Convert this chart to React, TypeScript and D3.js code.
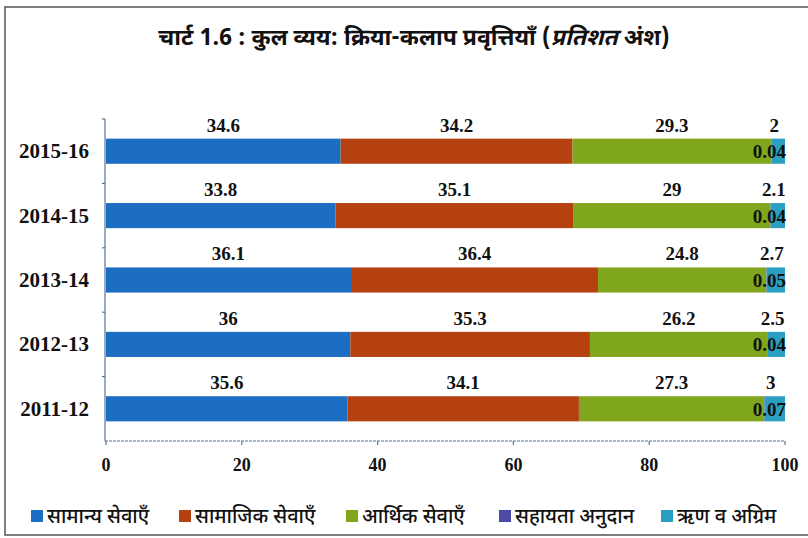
import * as d3 from 'd3'

const years = ['2015-16', '2014-15', '2013-14', '2012-13', '2011-12']
const generalServices = [34.6, 33.8, 36.1, 36, 35.6]
const socialServices = [34.2, 35.1, 36.4, 35.3, 34.1]
const economicServices = [29.3, 29, 24.8, 26.2, 27.3]
const grantsInAid = [0.04, 0.04, 0.05, 0.04, 0.07]
const loansAdvances = [2, 2.1, 2.7, 2.5, 3]
const xTicks = [0, 20, 40, 60, 80, 100]

const seriesNames = ['सामान्य सेवाएँ', 'सामाजिक सेवाएँ', 'आर्थिक सेवाएँ', 'सहायता अनुदान', 'ऋण व अग्रिम']
const seriesKeys = ['general', 'social', 'economic', 'grants', 'loans']
const seriesColors = ['#1b6ec2', '#b4410f', '#80a61d', '#4d4ba6', '#2a9fc2']

const W = 808
const H = 538
const margin = { top: 119, right: 23, bottom: 97, left: 106 }

const serif = '"Liberation Serif", "Times New Roman", serif'
const deva = '"Noto Sans Devanagari", "Noto Sans", sans-serif'

export default function App() {
  const rows = years.map((y, i) => ({
    year: y,
    general: generalServices[i],
    social: socialServices[i],
    economic: economicServices[i],
    grants: grantsInAid[i],
    loans: loansAdvances[i],
  }))

  // Excel-style 100% stacked bars
  const stacked = d3.stack<any>().keys(seriesKeys).offset(d3.stackOffsetExpand)(rows)

  const x = d3.scaleLinear().domain([0, 1]).range([margin.left, W - margin.right])
  const xAxis = d3.scaleLinear().domain([0, 100]).range([margin.left, W - margin.right])
  const y = d3.scaleBand().domain(years).range([margin.top, H - margin.bottom]).paddingInner(0.61).paddingOuter(0.305)
  const yEdges = d3.scaleBand().domain(years).range([margin.top, H - margin.bottom])

  const axisY = H - margin.bottom
  const labelSize = 19

  const legendX = [31, 179, 346, 499, 661]

  return (
    <svg width={W} height={H} style={{ position: 'absolute', left: 0, top: 0, background: '#fff' }}>
      {/* frame */}
      <rect x={5} y={7} width={W + 10} height={H - 10} fill="#fff" stroke="#555" strokeWidth={1.5} />

      {/* title */}
      <text x={414} y={45} textAnchor="middle" fontFamily={deva} fontSize={23} fontWeight="bold" fill="#111">
        चार्ट 1.6 : कुल व्यय: क्रिया-कलाप प्रवृत्तियाँ (<tspan fontStyle="italic">प्रतिशत</tspan> अंश)
      </text>

      {/* bars */}
      {stacked.map((s, si) => (
        <g key={s.key} fill={seriesColors[si]}>
          {s.map((d, i) => (
            <rect
              key={i}
              x={x(d[0])}
              y={y(years[i])!}
              width={Math.max(0, x(d[1]) - x(d[0]))}
              height={y.bandwidth()}
            />
          ))}
        </g>
      ))}

      {/* value labels */}
      {stacked.map((s, si) =>
        s.map((d, i) => {
          const v = (rows[i] as any)[s.key] as number
          const top = y(years[i])!
          if (s.key === 'grants') {
            return (
              <text key={`${si}-${i}`} x={x(1) + 1} y={top + y.bandwidth() / 2 + 7} textAnchor="end"
                fontFamily={serif} fontSize={labelSize} fontWeight="bold" fill="#111">
                {v}
              </text>
            )
          }
          const cx = (x(d[0]) + x(d[1])) / 2 - (s.key === 'loans' ? 4 : 0)
          return (
            <text key={`${si}-${i}`} x={cx} y={top - 7} textAnchor="middle"
              fontFamily={serif} fontSize={labelSize} fontWeight="bold" fill="#111">
              {v}
            </text>
          )
        })
      )}

      {/* y axis */}
      <line x1={margin.left - 1} x2={margin.left - 1} y1={margin.top} y2={axisY} stroke="#5a7590" strokeWidth={1.2} />
      {years.map((yr) => (
        <line key={yr} x1={margin.left - 4} x2={margin.left - 1} y1={yEdges(yr)!} y2={yEdges(yr)!} stroke="#5a7590" strokeWidth={1.2} />
      ))}
      {years.map((yr) => (
        <text key={yr} x={89} y={y(yr)! + y.bandwidth() / 2 + 7} textAnchor="end"
          fontFamily={serif} fontSize={21} fontWeight="bold" fill="#111">
          {yr}
        </text>
      ))}

      {/* x axis */}
      <line x1={margin.left - 1} x2={W - margin.right} y1={axisY} y2={axisY} stroke="#5a7590" strokeWidth={1.2} strokeDasharray="3,1" />
      {xTicks.map((t) => (
        <g key={t}>
          <line x1={xAxis(t)} x2={xAxis(t)} y1={axisY} y2={axisY + 4} stroke="#5a7590" strokeWidth={1.2} />
          <text x={xAxis(t)} y={axisY + 30} textAnchor="middle" fontFamily={serif} fontSize={18} fontWeight="bold" fill="#111">
            {t}
          </text>
        </g>
      ))}

      {/* legend */}
      {seriesNames.map((n, i) => (
        <g key={n} transform={`translate(${legendX[i]},516)`}>
          <rect x={0} y={-6} width={12} height={12} fill={seriesColors[i]} />
          <text x={16} y={7} fontFamily={deva} fontSize={20} fontWeight={500} fill="#111">
            {n}
          </text>
        </g>
      ))}
    </svg>
  )
}
